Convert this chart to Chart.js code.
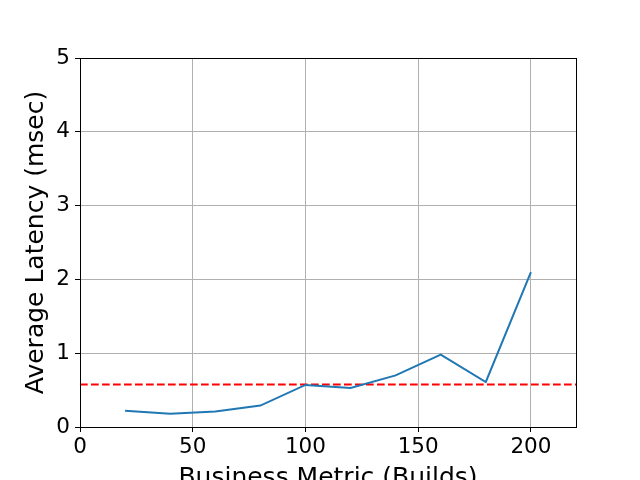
<!DOCTYPE html>
<html>
<head>
<meta charset="utf-8">
<script src="https://cdn.jsdelivr.net/npm/chart.js@4"></script>
<style>
  html, body { margin: 0; padding: 0; background: #fff; overflow: hidden; }
  #wrap { width: 640px; height: 480px; overflow: hidden; }
</style>
</head>
<body>
<div id="wrap"><canvas id="chart-area" width="640" height="500"></canvas></div>
<script>
// builds (x) and average latency in msec (y)
var builds = [20, 40, 60, 80, 100, 120, 140, 160, 180, 200];
var latency = [0.22, 0.18, 0.21, 0.29, 0.57, 0.53, 0.70, 0.98, 0.61, 2.10];
var thresholdX = [0, 220];
var thresholdY = [0.575, 0.575];
var xTicks = [0, 50, 100, 150, 200];
var yTicks = [0, 1, 2, 3, 4, 5];

var tickFont = { family: 'DejaVu Sans', size: 21.5 };
var titleFont = { family: 'DejaVu Sans', size: 25 };

function toPoints(xs, ys) {
	return xs.map(function(x, i) { return { x: x, y: ys[i] }; });
}

// matplotlib style box round the plot area
var frame = {
	id: 'frame',
	afterDraw: function(chart) {
		var a = chart.chartArea, ctx = chart.ctx;
		ctx.save();
		ctx.strokeStyle = '#000';
		ctx.lineWidth = 1;
		ctx.strokeRect(Math.round(a.left) + 0.5, Math.round(a.top) + 0.5,
			Math.round(a.right - a.left), Math.round(a.bottom - a.top));
		ctx.restore();
	}
};

new Chart(document.getElementById('chart-area'), {
	type : 'line',
	data : {
		datasets : [ {
			label : 'latency',
			data : toPoints(builds, latency),
			borderColor : '#1f77b4',
			borderWidth : 2,
			pointRadius : 0,
			tension : 0,
			fill : false
		}, {
			label : 'threshold',
			data : toPoints(thresholdX, thresholdY),
			borderColor : '#ff0000',
			borderWidth : 2,
			borderDash : [ 7.7, 3.3 ],
			pointRadius : 0,
			fill : false
		} ]
	},
	options : {
		responsive : false,
		animation : false,
		layout : { padding : { left : 0, right : 64, top : 58, bottom : 0 } },
		plugins : {
			legend : { display : false },
			tooltip : { enabled : false }
		},
		scales : {
			x : {
				type : 'linear',
				min : 0,
				max : 220,
				afterBuildTicks : function(scale) {
					scale.ticks = xTicks.map(function(v) { return { value : v }; });
				},
				afterFit : function(scale) { scale.height = 73; },
				grid : { color : '#b0b0b0', lineWidth : 1, tickColor : '#000', tickLength : 5 },
				border : { color : '#000', width : 1 },
				ticks : { font : tickFont, color : '#000', padding : 3, maxRotation : 0 },
				title : {
					display : true,
					text : 'Business Metric (Builds)',
					font : titleFont,
					color : '#000',
					padding : { top : 0, bottom : 7 }
				}
			},
			y : {
				min : 0,
				max : 5,
				afterBuildTicks : function(scale) {
					scale.ticks = yTicks.map(function(v) { return { value : v }; });
				},
				afterFit : function(scale) { scale.width = 80; },
				grid : { color : '#b0b0b0', lineWidth : 1, tickColor : '#000', tickLength : 5 },
				border : { color : '#000', width : 1 },
				ticks : { font : tickFont, color : '#000', padding : 5 },
				title : {
					display : true,
					text : 'Average Latency (msec)',
					font : titleFont,
					color : '#000',
					padding : { top : 21, bottom : 0 }
				}
			}
		}
	},
	plugins : [ frame ]
});
</script>
</body>
</html>
